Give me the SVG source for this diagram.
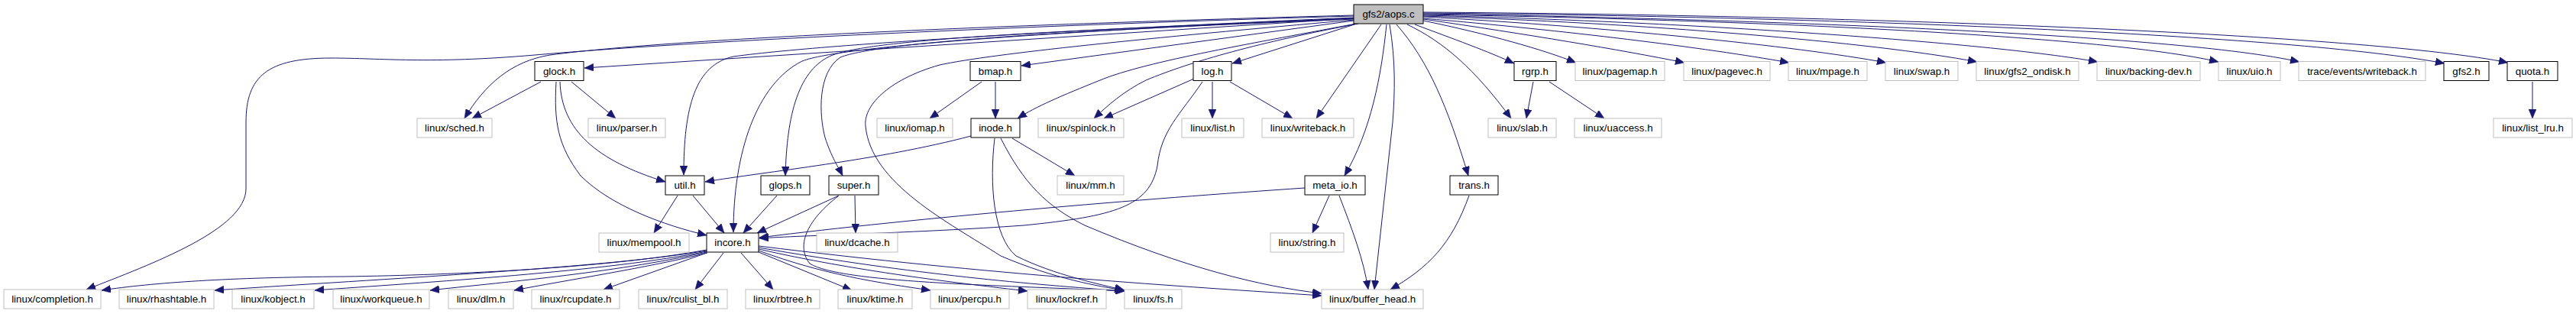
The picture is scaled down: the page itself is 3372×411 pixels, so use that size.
<svg xmlns="http://www.w3.org/2000/svg" width="3372" height="411" viewBox="0 0 3372 411">
<style>
.n rect{fill:#ffffff;stroke:#000000;stroke-width:1}
.x rect{fill:#ffffff;stroke:#bfbfbf;stroke-width:1}
.root rect{fill:#bfbfbf;stroke:#000000;stroke-width:1}
text{font-family:"Liberation Sans",Arial,Helvetica,sans-serif;font-size:13.33px;fill:#000000;text-anchor:middle}
#edges path{fill:none;stroke:#191970;stroke-width:1;marker-end:url(#ah)}
</style>
<defs>
<marker id="ah" markerUnits="userSpaceOnUse" markerWidth="12" markerHeight="10" viewBox="0 0 12 10" refX="12" refY="5" orient="auto">
<path d="M0,0 L12,5 L0,10 z" fill="#191970" stroke="#191970" stroke-width="0.5"/>
</marker>
</defs>
<rect x="0" y="0" width="3372" height="411" fill="#ffffff"/>
<g id="edges">
<!-- aops to left side -->
<path d="M1772,21 C1450,30 950,50 700,72 C560,84 500,76 433,76 C350,76 322,100 322,160 L322,247 C322,300 200,345 113,379"/>
<path d="M1772,20 C1400,30 900,48 720,72 C670,80 635,110 608,155"/>
<path d="M1772,24 L765,89"/>
<path d="M1772,23 C1500,35 1100,55 960,74 C910,85 895,140 895,229"/>
<path d="M1772,24 C1400,40 1100,60 1050,80 C990,110 960,200 960,304"/>
<path d="M1772,24 C1400,40 1150,50 1090,72 C1045,90 1030,150 1028,230"/>
<path d="M1772,25 C1400,40 1150,55 1100,75 C1070,95 1072,150 1080,180 C1088,205 1098,220 1103,230"/>
<path d="M1772,26 C1500,50 1300,70 1230,85 C1160,105 1130,140 1133,165 C1140,240 1240,290 1310,335 C1380,365 1440,375 1471,380"/>
<path d="M1772,27 L1337,86"/>
<path d="M1775,31 C1650,55 1500,80 1440,105 C1390,125 1355,140 1332,155"/>
<path d="M1778,31 C1650,55 1560,80 1500,105 C1470,120 1450,138 1432,155"/>
<path d="M1773,32 L1613,83"/>
<path d="M1808,32 L1723,155"/>
<path d="M1815,32 C1808,100 1795,170 1760,230"/>
<path d="M1819,32 C1827,80 1826,120 1823,160 L1799,379"/>
<!-- aops to right side -->
<path d="M1828,32 C1870,80 1895,140 1922,230"/>
<path d="M1842,32 C1890,55 1930,90 1978,155"/>
<path d="M1852,32 C1900,50 1950,68 1982,83"/>
<path d="M1863,27 C1950,45 2020,65 2063,82"/>
<path d="M1863,25 C2000,45 2120,65 2205,82"/>
<path d="M1863,24 C2050,40 2230,62 2342,82"/>
<path d="M1863,22 C2100,35 2350,60 2469,82"/>
<path d="M1863,21 C2150,30 2450,55 2588,81"/>
<path d="M1863,20 C2200,28 2600,55 2746,81"/>
<path d="M1863,19 C2250,25 2750,45 2904,81"/>
<path d="M1863,18 C2300,25 2850,45 3010,81"/>
<path d="M1863,17 C2400,22 3000,45 3200,83"/>
<path d="M1863,16 C2450,20 3100,45 3283,82"/>
<!-- glock -->
<path d="M708,107 L618,155"/>
<path d="M748,107 L806,155"/>
<path d="M733,107 C735,170 780,210 871,238"/>
<path d="M728,107 C725,160 730,190 760,230 C800,270 870,295 925,308"/>
<!-- util -->
<path d="M887,256 L856,305"/>
<path d="M907,256 L948,305"/>
<!-- glops, super -->
<path d="M1017,256 L973,305"/>
<path d="M1098,256 L991,305"/>
<path d="M1119,256 L1120,305"/>
<path d="M1097,257 C1060,285 1040,320 1060,345 C1100,370 1300,373 1472,381"/>
<!-- bmap -->
<path d="M1285,107 L1217,155"/>
<path d="M1303,107 L1303,155"/>
<!-- inode -->
<path d="M1271,178 C1150,210 1000,225 923,238"/>
<path d="M1325,181 L1407,230"/>
<path d="M1302,181 C1295,240 1300,310 1330,335 C1380,360 1440,372 1472,380"/>
<path d="M1310,181 C1340,240 1370,270 1420,295 C1550,350 1650,375 1730,384"/>
<!-- log -->
<path d="M1587,107 L1587,155"/>
<path d="M1563,103 L1445,155"/>
<path d="M1610,107 L1692,155"/>
<path d="M1574,107 C1545,150 1520,170 1515,217 C1505,270 1460,283 1340,295 C1200,305 1050,308 994,312"/>
<!-- meta_io -->
<path d="M1708,246 C1500,260 1200,285 994,311"/>
<path d="M1740,256 L1718,305"/>
<path d="M1753,256 C1770,300 1785,340 1791,379"/>
<!-- trans -->
<path d="M1923,256 C1900,320 1870,350 1820,379"/>
<!-- rgrp, quota -->
<path d="M2007,107 L1998,155"/>
<path d="M2028,107 L2100,155"/>
<path d="M3315,107 L3315,155"/>
<!-- incore -->
<path d="M925,327 C800,350 600,360 450,362 C300,363 200,370 133,380"/>
<path d="M925,328 C800,350 500,365 281,380"/>
<path d="M925,329 C800,355 550,370 412,380"/>
<path d="M925,330 C800,358 650,370 563,380"/>
<path d="M926,331 C850,350 740,367 673,380"/>
<path d="M925,331 L790,379"/>
<path d="M947,331 L910,379"/>
<path d="M970,331 L1012,379"/>
<path d="M993,330 L1115,380"/>
<path d="M993,328 C1080,360 1150,370 1218,380"/>
<path d="M993,326 C1120,355 1250,370 1345,381"/>
<path d="M993,324 C1200,360 1350,372 1472,381"/>
<path d="M993,322 C1300,360 1550,375 1730,387"/>
</g>
<g id="node_aops" class="root"><rect x="1772" y="6" width="91" height="25"/><text x="1817.5" y="23">gfs2/aops.c</text></g>
<g id="node_glock" class="n"><rect x="700" y="80.5" width="64" height="25"/><text x="732" y="97.5">glock.h</text></g>
<g id="node_bmap" class="n"><rect x="1270" y="80.5" width="66" height="25"/><text x="1303" y="97.5">bmap.h</text></g>
<g id="node_log" class="n"><rect x="1562" y="80.5" width="50" height="25"/><text x="1587" y="97.5">log.h</text></g>
<g id="node_rgrp" class="n"><rect x="1982" y="80.5" width="55" height="25"/><text x="2009.5" y="97.5">rgrp.h</text></g>
<g id="node_pagemap" class="x"><rect x="2062" y="80.5" width="117" height="25"/><text x="2120.5" y="97.5">linux/pagemap.h</text></g>
<g id="node_pagevec" class="x"><rect x="2204" y="80.5" width="113" height="25"/><text x="2260.5" y="97.5">linux/pagevec.h</text></g>
<g id="node_mpage" class="x"><rect x="2341" y="80.5" width="103" height="25"/><text x="2392.5" y="97.5">linux/mpage.h</text></g>
<g id="node_swap" class="x"><rect x="2468" y="80.5" width="95" height="25"/><text x="2515.5" y="97.5">linux/swap.h</text></g>
<g id="node_gfs2_ondisk" class="x"><rect x="2587" y="80.5" width="134" height="25"/><text x="2654" y="97.5">linux/gfs2_ondisk.h</text></g>
<g id="node_backing_dev" class="x"><rect x="2745" y="80.5" width="135" height="25"/><text x="2812.5" y="97.5">linux/backing-dev.h</text></g>
<g id="node_uio" class="x"><rect x="2904" y="80.5" width="81" height="25"/><text x="2944.5" y="97.5">linux/uio.h</text></g>
<g id="node_trace_writeback" class="x"><rect x="3009" y="80.5" width="166" height="25"/><text x="3092" y="97.5">trace/events/writeback.h</text></g>
<g id="node_gfs2" class="n"><rect x="3199" y="80.5" width="59" height="25"/><text x="3228.5" y="97.5">gfs2.h</text></g>
<g id="node_quota" class="n"><rect x="3282" y="80.5" width="66" height="25"/><text x="3315" y="97.5">quota.h</text></g>
<g id="node_sched" class="x"><rect x="546" y="155" width="98" height="25"/><text x="595" y="172">linux/sched.h</text></g>
<g id="node_parser" class="x"><rect x="770" y="155" width="101" height="25"/><text x="820.5" y="172">linux/parser.h</text></g>
<g id="node_iomap" class="x"><rect x="1148" y="155" width="99" height="25"/><text x="1197.5" y="172">linux/iomap.h</text></g>
<g id="node_inode" class="n"><rect x="1271" y="155" width="64" height="25"/><text x="1303" y="172">inode.h</text></g>
<g id="node_spinlock" class="x"><rect x="1359" y="155" width="112" height="25"/><text x="1415" y="172">linux/spinlock.h</text></g>
<g id="node_list" class="x"><rect x="1547" y="155" width="81" height="25"/><text x="1587.5" y="172">linux/list.h</text></g>
<g id="node_writeback" class="x"><rect x="1652" y="155" width="120" height="25"/><text x="1712" y="172">linux/writeback.h</text></g>
<g id="node_slab" class="x"><rect x="1948" y="155" width="89" height="25"/><text x="1992.5" y="172">linux/slab.h</text></g>
<g id="node_uaccess" class="x"><rect x="2061" y="155" width="114" height="25"/><text x="2118" y="172">linux/uaccess.h</text></g>
<g id="node_list_lru" class="x"><rect x="3264" y="155" width="103" height="25"/><text x="3315.5" y="172">linux/list_lru.h</text></g>
<g id="node_util" class="n"><rect x="871" y="230" width="51" height="25"/><text x="896.5" y="247">util.h</text></g>
<g id="node_glops" class="n"><rect x="996" y="230" width="64" height="25"/><text x="1028" y="247">glops.h</text></g>
<g id="node_super" class="n"><rect x="1085" y="230" width="65" height="25"/><text x="1117.5" y="247">super.h</text></g>
<g id="node_mm" class="x"><rect x="1384" y="230" width="87" height="25"/><text x="1427.5" y="247">linux/mm.h</text></g>
<g id="node_meta_io" class="n"><rect x="1708" y="230" width="79" height="25"/><text x="1747.5" y="247">meta_io.h</text></g>
<g id="node_trans" class="n"><rect x="1898" y="230" width="63" height="25"/><text x="1929.5" y="247">trans.h</text></g>
<g id="node_mempool" class="x"><rect x="784" y="305" width="118" height="25"/><text x="843" y="322">linux/mempool.h</text></g>
<g id="node_incore" class="n"><rect x="925" y="305" width="68" height="25"/><text x="959" y="322">incore.h</text></g>
<g id="node_dcache" class="x"><rect x="1069" y="305" width="106" height="25"/><text x="1122" y="322">linux/dcache.h</text></g>
<g id="node_string" class="x"><rect x="1663" y="305" width="96" height="25"/><text x="1711" y="322">linux/string.h</text></g>
<g id="node_completion" class="x"><rect x="5" y="379" width="127" height="25"/><text x="68.5" y="396">linux/completion.h</text></g>
<g id="node_rhashtable" class="x"><rect x="156" y="379" width="124" height="25"/><text x="218" y="396">linux/rhashtable.h</text></g>
<g id="node_kobject" class="x"><rect x="304" y="379" width="107" height="25"/><text x="357.5" y="396">linux/kobject.h</text></g>
<g id="node_workqueue" class="x"><rect x="436" y="379" width="126" height="25"/><text x="499" y="396">linux/workqueue.h</text></g>
<g id="node_dlm" class="x"><rect x="587" y="379" width="85" height="25"/><text x="629.5" y="396">linux/dlm.h</text></g>
<g id="node_rcupdate" class="x"><rect x="696" y="379" width="115" height="25"/><text x="753.5" y="396">linux/rcupdate.h</text></g>
<g id="node_rculist_bl" class="x"><rect x="836" y="379" width="116" height="25"/><text x="894" y="396">linux/rculist_bl.h</text></g>
<g id="node_rbtree" class="x"><rect x="976" y="379" width="97" height="25"/><text x="1024.5" y="396">linux/rbtree.h</text></g>
<g id="node_ktime" class="x"><rect x="1097" y="379" width="97" height="25"/><text x="1145.5" y="396">linux/ktime.h</text></g>
<g id="node_percpu" class="x"><rect x="1218" y="379" width="103" height="25"/><text x="1269.5" y="396">linux/percpu.h</text></g>
<g id="node_lockref" class="x"><rect x="1345" y="379" width="103" height="25"/><text x="1396.5" y="396">linux/lockref.h</text></g>
<g id="node_fs" class="x"><rect x="1472" y="379" width="75" height="25"/><text x="1509.5" y="396">linux/fs.h</text></g>
<g id="node_buffer_head" class="x"><rect x="1730" y="379" width="133" height="25"/><text x="1796.5" y="396">linux/buffer_head.h</text></g>
</svg>
